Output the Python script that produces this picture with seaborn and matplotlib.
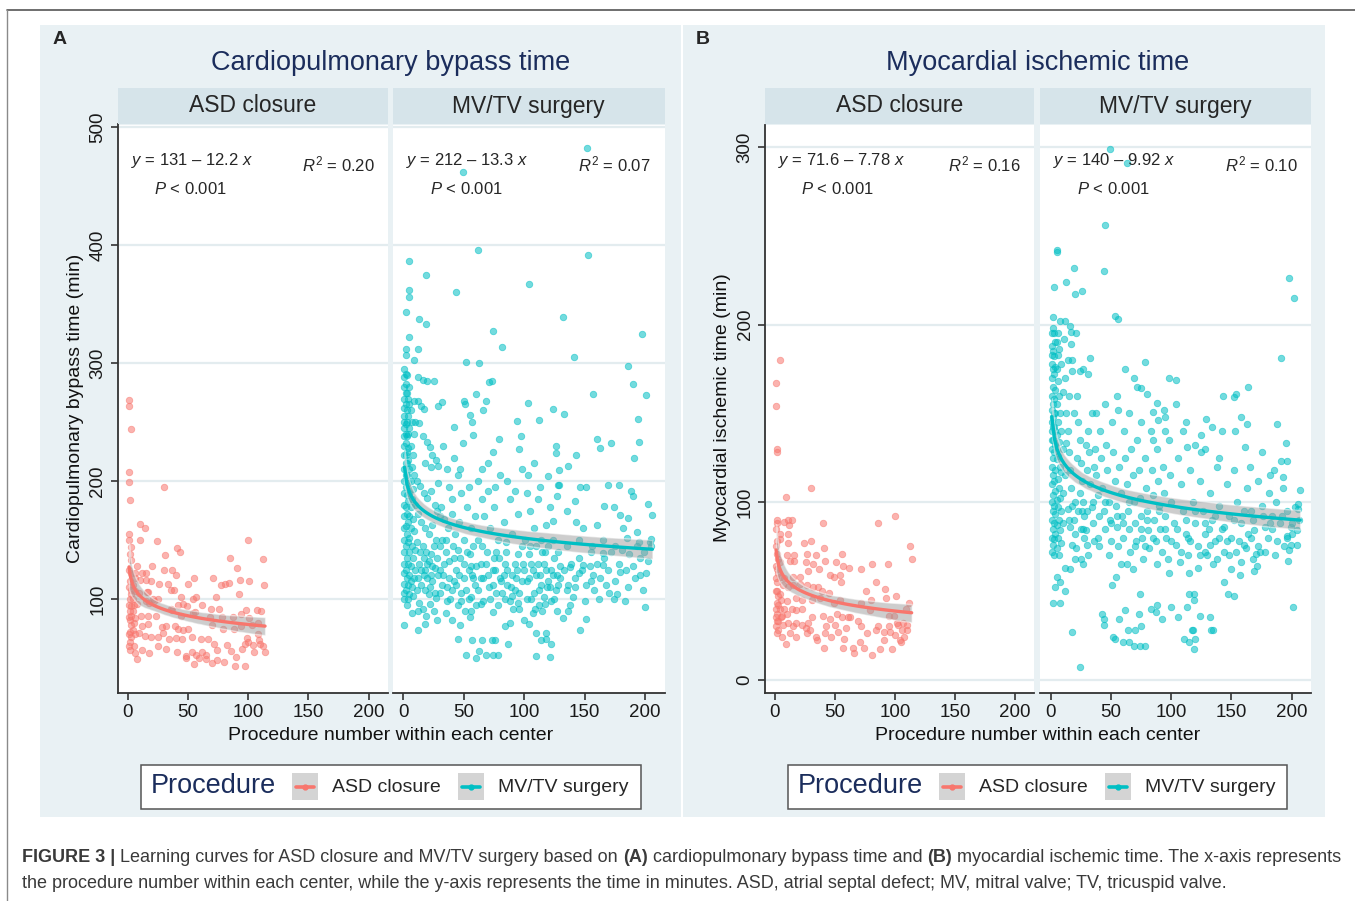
import numpy as np
import pandas as pd
import matplotlib
matplotlib.use("Agg")
import matplotlib.pyplot as plt
import seaborn as sns
from matplotlib.patches import Rectangle
from matplotlib.lines import Line2D
from matplotlib import font_manager

# ---------- data: (procedure number, minutes) ----------
asd_cpb = [(1, 269), (1, 264), (3, 244), (1, 208), (1, 199), (2, 184), (30, 195), (10, 164), (14, 160),
           (1, 155), (1, 150), (10, 150), (24, 149), (3, 144), (41, 143), (43, 140), (2, 138), (31, 137),
           (3, 133), (100, 150), (85, 135), (112, 134), (91, 126), (20, 128), (8, 128), (30, 125), (37, 125),
           (40, 120), (55, 118), (71, 118), (1, 125), (3, 122), (6, 122), (12, 122), (15, 122),
           (6, 118), (10, 116), (15, 116), (19, 115), (26, 113), (33, 113), (50, 113), (77, 112), (81, 113),
           (84, 114), (93, 116), (101, 115), (113, 112), (3, 108), (3, 104), (6, 107), (9, 105), (16, 106),
           (17, 106), (36, 108), (38, 108), (92, 104), (73, 102), (44, 102), (54, 100), (57, 102), (21, 100),
           (25, 100), (3, 94), (8, 96), (15, 98), (18, 97), (22, 98), (42, 95), (46, 96), (49, 94), (62, 95),
           (69, 92), (76, 92), (98, 91), (107, 91), (111, 90), (3, 86), (6, 84), (11, 86), (17, 86), (23, 86),
           (36, 92), (37, 91), (44, 86), (54, 88), (56, 89), (68, 85), (78, 85), (87, 85), (94, 87), (101, 84),
           (108, 80), (5, 80), (12, 77), (17, 79), (28, 76), (32, 77), (39, 77), (42, 75), (46, 74), (50, 75),
           (70, 78), (79, 75), (88, 75), (94, 77), (103, 78), (2, 72), (6, 70), (9, 71), (14, 69), (19, 68),
           (25, 68), (29, 71), (34, 66), (40, 67), (45, 66), (53, 68), (61, 66), (67, 66), (72, 62), (82, 61),
           (97, 62), (99, 67), (109, 65), (104, 61), (110, 62), (2, 57), (6, 54), (12, 57), (18, 54), (25, 60),
           (32, 58), (41, 55), (48, 52), (53, 55), (57, 53), (62, 55), (65, 53), (74, 57), (80, 47), (74, 48),
           (114, 55), (8, 49), (48, 50), (55, 45), (59, 50), (65, 49), (70, 46), (90, 51), (89, 43), (97, 43),
           (1, 95), (1, 85), (2, 100), (2, 90), (1, 110), (2, 115), (3, 78), (4, 90), (4, 112), (5, 95),
           (1, 70), (2, 64), (5, 60), (4, 74), (1, 60), (2, 82), (3, 68), (4, 100),
           (95, 58), (105, 55), (112, 60), (100, 64), (86, 56), (108, 70)]

mv_cpb = [(152, 482), (49, 462), (62, 396), (153, 392), (5, 387), (19, 375), (104, 367), (5, 362), (5, 356),
          (44, 360), (2, 343), (132, 339), (13, 337), (19, 333), (197, 325), (74, 327), (5, 322), (82, 314),
          (2, 312), (12, 312), (2, 307), (9, 303), (141, 305), (52, 301), (63, 300), (186, 298), (2, 291),
          (1, 288), (12, 288), (16, 286), (20, 285), (25, 285), (71, 284), (73, 285), (190, 282), (157, 274),
          (201, 273),
          (1, 78), (1, 100), (1, 105), (1, 113), (1, 122), (1, 130), (1, 140), (1, 150), (1, 160), (1, 170),
          (1, 180), (1, 190), (1, 200), (1, 210), (1, 222), (1, 238), (1, 250), (1, 262), (1, 270),
          (2, 275), (2, 248), (2, 232), (2, 215), (2, 195), (2, 178), (2, 162), (2, 145), (2, 125), (2, 108),
          (3, 95), (3, 118), (3, 135), (3, 155), (3, 172), (3, 188), (3, 205), (3, 225), (3, 260), (3, 275),
          (4, 240), (4, 218), (4, 198), (4, 183), (4, 165), (4, 148), (4, 130), (4, 112), (4, 100),
          (5, 265), (5, 210), (5, 190), (5, 170), (5, 152), (5, 140), (5, 120), (5, 104),
          (6, 230), (6, 200), (6, 178), (6, 160), (6, 128), (6, 115), (7, 88), (7, 250), (7, 212), (7, 185),
          (7, 145), (7, 110), (8, 222), (8, 193), (8, 168), (8, 135), (8, 103), (9, 268), (9, 240), (9, 205),
          (9, 158), (9, 118), (10, 250), (10, 180), (10, 142), (10, 125),
          (1, 295), (1, 280), (1, 255), (2, 265), (2, 282), (2, 240), (3, 250), (3, 290), (4, 270), (4, 255),
          (1, 230), (2, 222), (3, 238), (1, 245), (2, 205), (3, 215), (4, 228), (5, 280), (6, 260), (5, 245),
          (12, 74), (12, 90), (12, 268), (15, 264), (17, 261), (13, 249), (16, 238), (20, 233), (22, 229),
          (24, 222), (27, 218), (29, 213), (23, 212), (18, 215), (11, 200), (14, 196), (17, 190), (20, 186),
          (23, 192), (26, 180), (28, 175), (12, 172), (15, 165), (18, 160), (21, 155), (24, 163), (27, 150),
          (30, 145), (11, 148), (14, 140), (17, 135), (20, 130), (23, 138), (26, 126), (29, 120), (12, 118),
          (15, 112), (18, 108), (21, 104), (24, 115), (27, 101), (13, 97), (16, 92), (19, 86), (22, 96),
          (25, 90), (28, 82), (18, 79), (30, 105), (30, 170), (29, 198),
          (15, 125), (17, 120), (19, 140), (21, 132), (23, 120), (11, 108), (13, 130), (16, 145), (18, 125),
          (29, 264), (32, 267), (42, 246), (49, 232), (50, 268), (51, 265), (55, 256), (57, 250), (58, 239),
          (60, 274), (33, 230), (36, 210), (38, 195), (40, 185), (42, 220), (45, 205), (48, 190), (31, 178),
          (34, 168), (37, 160), (40, 172), (43, 155), (46, 165), (50, 150), (53, 178), (56, 160), (59, 170),
          (32, 150), (35, 140), (38, 132), (41, 145), (44, 125), (47, 135), (50, 118), (53, 140), (56, 128),
          (59, 112), (33, 120), (36, 110), (39, 100), (42, 115), (45, 95), (48, 105), (51, 90), (54, 100),
          (57, 120), (60, 95), (35, 88), (40, 82), (45, 66), (47, 78), (52, 53), (55, 85), (56, 90), (57, 65),
          (60, 50), (58, 145), (54, 195), (47, 210),
          (20, 118), (22, 110), (24, 128), (26, 105), (28, 135), (30, 125), (32, 112), (34, 130), (36, 98),
          (38, 118), (40, 108), (42, 135), (44, 112), (46, 120), (48, 98), (50, 130), (52, 108), (54, 125),
          (56, 102), (58, 118), (60, 128), (25, 145), (35, 150), (45, 142), (55, 138),
          (63, 56), (65, 65), (64, 96), (66, 260), (68, 268), (68, 53), (74, 225), (73, 65), (74, 53),
          (74, 89), (76, 65), (78, 53), (79, 236), (84, 77), (87, 62), (90, 103), (94, 251), (95, 97),
          (96, 227), (97, 238), (62, 200), (65, 185), (67, 170), (70, 192), (72, 160), (75, 178), (78, 150),
          (80, 205), (83, 165), (85, 140), (88, 185), (90, 155), (92, 130), (95, 172), (98, 145), (62, 150),
          (64, 130), (66, 118), (69, 140), (71, 110), (74, 125), (77, 105), (79, 135), (81, 115), (84, 100),
          (86, 125), (89, 110), (91, 92), (93, 118), (96, 105), (99, 130), (65, 210), (70, 215), (76, 195),
          (86, 200), (92, 192), (98, 210), (100, 82), (88, 80), (77, 140), (83, 120),
          (62, 108), (64, 118), (66, 98), (68, 130), (70, 120), (72, 100), (74, 112), (76, 125), (78, 95),
          (80, 118), (82, 105), (84, 130), (86, 112), (88, 98), (90, 120), (92, 108), (94, 125), (96, 92),
          (98, 115), (65, 145), (75, 135), (85, 148), (95, 138),
          (103, 266), (104, 79), (110, 71), (110, 52), (112, 252), (114, 65), (118, 71), (118, 66),
          (121, 178), (121, 51), (122, 62), (124, 261), (126, 230), (126, 224), (120, 204), (118, 163),
          (124, 166), (127, 187), (129, 197), (129, 209), (128, 197), (102, 190), (105, 175), (108, 160),
          (111, 185), (114, 150), (117, 140), (101, 150), (104, 138), (107, 125), (110, 145), (113, 120),
          (116, 130), (119, 110), (122, 125), (125, 100), (128, 140), (102, 115), (106, 100), (109, 92),
          (112, 108), (115, 90), (120, 145), (124, 150), (127, 120), (130, 128), (103, 205), (108, 215),
          (113, 195),
          (100, 125), (102, 100), (104, 118), (106, 130), (108, 105), (110, 120), (112, 95), (114, 112),
          (116, 102), (118, 125), (120, 115), (122, 98), (124, 120), (126, 108), (128, 112), (130, 118),
          (105, 145), (115, 140), (125, 135), (107, 88), (117, 96), (127, 90), (111, 130), (121, 110),
          (132, 84), (133, 257), (135, 175), (135, 108), (136, 213), (136, 90), (138, 127), (142, 183),
          (142, 110), (143, 222), (143, 165), (145, 122), (146, 195), (146, 74), (149, 160), (149, 129),
          (151, 195), (151, 83), (155, 115), (156, 145), (160, 236), (160, 163), (163, 228), (165, 139),
          (165, 129), (166, 179), (169, 197), (170, 105), (172, 232), (174, 178), (174, 100), (178, 197),
          (179, 171), (179, 123), (182, 160), (186, 169), (188, 192), (190, 187), (191, 220), (193, 157),
          (194, 253), (195, 233), (196, 120), (200, 93), (202, 181), (205, 151), (206, 171), (204, 148),
          (133, 125), (136, 112), (139, 130), (142, 118), (145, 135), (148, 125), (151, 112), (154, 128),
          (157, 120), (160, 130), (163, 118), (166, 135), (169, 125), (172, 140), (175, 115), (178, 130),
          (181, 142), (184, 125), (187, 138), (190, 128), (193, 145), (196, 135), (199, 140), (202, 132),
          (205, 145), (135, 145), (145, 150), (155, 140), (165, 150), (175, 145), (185, 152), (195, 148),
          (140, 102), (150, 98), (158, 108), (168, 112), (177, 104), (186, 110), (192, 118), (201, 122),
          (138, 95), (162, 100), (183, 98), (198, 108)]

asd_mit = [(4, 180), (1, 167), (1, 154), (2, 130), (2, 128), (30, 108), (9, 103), (2, 90), (2, 88), (1, 85),
           (8, 89), (11, 90), (14, 90), (12, 87), (40, 88), (86, 88), (100, 92), (4, 82), (11, 82), (2, 78),
           (4, 79), (1, 75), (11, 77), (24, 77), (30, 78), (41, 74), (113, 75), (114, 68), (27, 71), (34, 70),
           (56, 71), (42, 67), (51, 66), (10, 70), (16, 70), (16, 67), (13, 67), (2, 71), (3, 68), (1, 64),
           (26, 66), (32, 65), (81, 65), (94, 65), (57, 64), (62, 63), (72, 62), (28, 61), (37, 62), (46, 59),
           (49, 58), (54, 59), (55, 55), (4, 58), (8, 57), (15, 58), (21, 58), (21, 54), (27, 53), (32, 52),
           (36, 52), (39, 50), (84, 55), (92, 51), (101, 47), (93, 46), (76, 50), (80, 45), (2, 50), (3, 47),
           (7, 53), (11, 52), (15, 53), (10, 44), (18, 46), (23, 45), (31, 45), (38, 46), (45, 49), (49, 43),
           (54, 45), (72, 43), (79, 39), (112, 43), (109, 40), (2, 43), (8, 40), (14, 40), (18, 39), (23, 40),
           (31, 35), (40, 36), (46, 34), (52, 37), (56, 35), (61, 35), (63, 35), (69, 33), (95, 36), (99, 36),
           (102, 32), (107, 32), (110, 31), (106, 28), (103, 31), (2, 37), (6, 36), (10, 37), (3, 33), (7, 31),
           (11, 32), (15, 30), (18, 32), (23, 31), (26, 29), (28, 32), (29, 28), (43, 30), (50, 31), (53, 27),
           (59, 29), (72, 30), (77, 26), (84, 28), (86, 30), (91, 27), (96, 27), (2, 26), (6, 24), (9, 20),
           (13, 26), (18, 24), (27, 26), (34, 24), (35, 22), (42, 26), (41, 18), (47, 24), (57, 18), (58, 23),
           (65, 18), (66, 15), (71, 21), (74, 18), (81, 14), (88, 17), (91, 22), (98, 17), (104, 22), (105, 21),
           (1, 40), (1, 50), (2, 55), (3, 42), (1, 30), (2, 33), (4, 40), (3, 60), (5, 45), (1, 57), (2, 62),
           (4, 66), (5, 35), (3, 28), (1, 35), (4, 48),
           (100, 25), (110, 28), (95, 30), (108, 24)]

mv_mit = [(49, 299), (63, 291), (45, 256), (5, 242), (5, 241), (19, 232), (44, 230), (3, 221), (13, 224),
          (20, 217), (26, 219), (198, 226), (202, 215), (53, 205), (56, 203), (2, 204), (2, 198), (8, 202),
          (12, 202), (16, 199), (17, 196), (21, 195), (17, 189), (33, 181), (78, 179), (191, 181), (62, 175),
          (1, 183), (1, 178), (6, 183), (14, 180), (18, 180), (18, 174), (24, 174), (27, 175), (31, 172),
          (69, 170), (72, 165), (75, 164), (80, 161), (98, 170), (104, 169), (164, 165), (143, 160),
          (152, 159), (154, 161), (88, 156), (94, 152), (104, 155), (56, 152), (38, 150), (85, 151), (89, 146),
          (95, 148), (112, 145), (129, 147), (158, 148), (163, 144), (188, 144), (195, 133), (161, 131),
          (175, 128), (142, 140), (153, 140), (125, 138), (134, 142), (113, 131), (120, 132), (128, 130),
          (191, 123), (196, 123), (182, 115), (193, 114), (207, 107), (205, 99), (205, 96), (200, 82),
          (199, 76), (198, 73), (196, 81), (201, 41), (170, 71), (174, 72), (169, 61), (157, 59), (147, 48),
          (152, 47), (144, 55), (115, 48), (119, 48), (119, 45), (113, 41), (124, 36), (132, 35), (133, 28),
          (135, 28), (111, 23), (115, 21), (117, 28), (118, 28), (120, 23), (119, 17), (100, 41), (106, 35),
          (87, 38), (92, 34), (88, 42), (83, 40), (74, 48), (75, 30), (60, 21), (65, 21), (69, 19), (74, 19),
          (78, 19), (52, 24), (53, 23), (62, 39), (64, 28), (57, 34), (70, 28), (73, 37), (43, 37), (44, 34),
          (44, 31), (51, 53), (54, 58), (63, 65), (18, 27), (24, 7), (2, 43), (8, 43), (4, 52), (8, 55),
          (12, 50), (5, 58), (12, 63), (16, 62), (27, 65),
          (1, 170), (1, 160), (1, 152), (1, 140), (1, 130), (1, 120), (1, 110), (1, 100), (1, 90), (1, 80),
          (1, 72), (2, 165), (2, 148), (2, 135), (2, 125), (2, 115), (2, 104), (2, 95), (2, 85), (2, 76),
          (3, 172), (3, 158), (3, 142), (3, 128), (3, 112), (3, 98), (3, 88), (3, 79), (3, 70), (4, 190),
          (4, 163), (4, 150), (4, 132), (4, 118), (4, 106), (4, 93), (4, 82), (5, 175), (5, 155), (5, 138),
          (5, 124), (5, 101), (5, 87), (5, 74), (6, 168), (6, 145), (6, 126), (6, 113), (6, 97), (6, 80),
          (7, 186), (7, 160), (7, 134), (7, 108), (7, 90), (7, 70), (8, 150), (8, 120), (8, 102), (8, 84),
          (9, 178), (9, 140), (9, 117), (9, 95), (9, 77), (10, 162), (10, 130), (10, 105), (10, 88),
          (1, 195), (1, 188), (2, 185), (2, 175), (3, 195), (3, 182), (4, 176), (1, 145), (2, 155), (3, 150),
          (4, 140), (5, 190), (6, 195), (1, 135), (2, 142),
          (11, 192), (12, 170), (13, 150), (14, 140), (15, 128), (16, 118), (17, 108), (18, 98), (19, 90),
          (20, 82), (21, 74), (22, 160), (23, 145), (24, 135), (25, 122), (26, 112), (27, 100), (28, 92),
          (29, 84), (30, 76), (12, 115), (14, 96), (16, 86), (18, 76), (20, 68), (22, 125), (24, 105),
          (26, 95), (28, 80), (30, 118), (31, 140), (32, 128), (33, 110), (34, 97), (35, 88), (36, 78),
          (37, 130), (38, 115), (39, 104), (40, 92), (13, 133), (15, 160), (19, 150), (23, 95), (27, 85),
          (29, 132), (34, 150), (36, 120), (39, 80), (31, 70), (25, 68),
          (15, 90), (20, 100), (25, 85), (30, 95), (35, 100), (40, 75),
          (41, 140), (42, 125), (43, 108), (44, 95), (45, 85), (46, 132), (47, 118), (48, 100), (49, 90),
          (50, 78), (51, 145), (52, 128), (53, 112), (54, 98), (55, 86), (56, 75), (57, 120), (58, 105),
          (59, 92), (60, 80), (61, 140), (62, 125), (63, 110), (64, 95), (65, 85), (66, 72), (67, 130),
          (68, 115), (69, 100), (70, 88), (71, 78), (72, 135), (73, 118), (74, 102), (75, 92), (76, 80),
          (77, 68), (78, 125), (79, 108), (80, 95), (81, 84), (82, 74), (83, 140), (84, 118), (85, 104),
          (86, 90), (87, 78), (88, 130), (89, 112), (90, 98), (91, 85), (92, 72), (93, 120), (94, 105),
          (95, 92), (96, 80), (97, 68), (98, 135), (99, 115), (100, 100), (45, 155), (55, 160), (65, 150),
          (75, 145), (85, 135), (95, 140), (48, 70), (58, 65), (68, 62), (78, 75), (88, 65), (98, 60),
          (45, 100), (50, 88), (55, 92), (60, 88), (65, 100), (70, 75), (75, 85), (80, 90), (85, 80),
          (90, 95), (95, 85), (100, 78),
          (102, 88), (104, 76), (106, 125), (108, 110), (110, 95), (112, 82), (114, 70), (116, 118),
          (118, 100), (120, 88), (122, 75), (124, 112), (126, 95), (128, 82), (130, 70), (132, 105),
          (134, 90), (136, 78), (138, 120), (140, 98), (142, 85), (144, 72), (146, 110), (148, 92), (150, 80),
          (152, 118), (155, 100), (158, 88), (160, 76), (163, 108), (166, 95), (169, 84), (172, 112),
          (175, 98), (178, 86), (181, 105), (184, 92), (187, 100), (190, 88), (193, 108), (196, 95),
          (199, 86), (203, 97), (206, 90), (110, 140), (125, 128), (140, 125), (165, 120), (185, 118),
          (115, 60), (135, 65), (150, 62), (168, 68),
          (105, 85), (108, 72), (112, 90), (116, 78), (120, 95), (124, 70), (128, 88), (132, 76), (136, 92),
          (140, 80), (144, 86), (148, 70), (152, 90), (156, 78), (160, 95), (164, 82), (168, 90), (172, 75),
          (176, 92), (180, 80), (184, 85), (188, 78), (192, 92), (196, 80), (200, 88), (204, 84),
          (107, 66), (122, 63), (138, 68), (154, 72), (171, 64), (186, 70), (197, 67), (146, 78), (162, 74),
          (178, 72), (128, 72), (114, 80), (182, 88), (194, 75), (158, 66), (131, 85), (204, 76), (166, 80)]

panel_letters = ["A", "B"]
panel_titles = ["Cardiopulmonary bypass time", "Myocardial ischemic time"]
y_labels = ["Cardiopulmonary bypass time (min)", "Myocardial ischemic time (min)"]
procedures = ["ASD closure", "MV/TV surgery"]
equations = [["131 – 12.2", "212 – 13.3"], ["71.6 – 7.78", "140 – 9.92"]]
r_squared = [["0.20", "0.07"], ["0.16", "0.10"]]
p_values = ["0.001", "0.001"]
y_ticks = [[100, 200, 300, 400, 500], [0, 100, 200, 300]]
y_limits = [(20.8, 502.3), (-7.3, 312.7)]
x_ticks = [0, 50, 100, 150, 200]
point_sets = [[asd_cpb, mv_cpb], [asd_mit, mv_mit]]

# ---------- style ----------
sns.set_style("ticks")
plt.rcParams["font.family"] = ["Liberation Sans", "DejaVu Sans"]
plt.rcParams["mathtext.fontset"] = "custom"
plt.rcParams["mathtext.rm"] = "Liberation Sans"
plt.rcParams["mathtext.it"] = "Liberation Sans:italic"
plt.rcParams["mathtext.bf"] = "Liberation Sans:bold"

available = {f.name for f in font_manager.fontManager.ttflist}
cap_font = "Liberation Sans Narrow" if "Liberation Sans Narrow" in available else "Liberation Sans"

colors = ["#F8766D", "#00BFC4"]
bg_col = "#e9f1f4"
strip_col = "#d6e4ea"
grid_col = "#e3ecef"
navy = "#1b2d5c"
axis_col = "#333333"

W, H = 1355, 901
fig = plt.figure(figsize=(W / 100, H / 100), dpi=100)


def box(x0, y0, x1, y1):
    return [x0 / W, 1 - y1 / H, (x1 - x0) / W, (y1 - y0) / H]


# frame lines of the page
fig.add_artist(Line2D([7 / W, 1], [1 - 9.5 / H] * 2, color="#555555", lw=1.2))
fig.add_artist(Line2D([7.5 / W] * 2, [0, 1 - 9.5 / H], color="#8a8a8a", lw=1.0))

panel_x = [40, 683]
panel_w = [641, 642]
facet_x = [[(117.6, 387.8), (393.0, 664.5)], [(764.7, 1034.0), (1040.4, 1311.0)]]
y_top, y_bot = 124.5, 692.5

for p in range(2):
    fig.add_artist(Rectangle((panel_x[p] / W, 1 - 817 / H), panel_w[p] / W, (817 - 25) / H,
                             transform=fig.transFigure, facecolor=bg_col, edgecolor="none", zorder=-5))
    cx = (facet_x[p][0][0] + facet_x[p][1][1]) / 2
    fig.text((panel_x[p] + 13) / W, 1 - 40 / H, panel_letters[p], fontsize=14, fontweight="bold",
             ha="left", va="center")
    fig.text(cx / W, 1 - 63 / H, panel_titles[p], fontsize=19.5, color=navy, ha="center", va="center")
    fig.text(cx / W, 1 - 736 / H, "Procedure number within each center", fontsize=14,
             ha="center", va="center", color="#111111")
    fig.text((facet_x[p][0][0] - 42) / W, 1 - 408 / H, y_labels[p], fontsize=14, rotation=90,
             ha="center", va="center", color="#111111")

    for f in range(2):
        x0, x1 = facet_x[p][f]
        col = colors[f]
        df = pd.DataFrame(point_sets[p][f], columns=["n", "minutes"])

        ax = fig.add_axes(box(x0, y_top, x1, y_bot))
        ax.set_facecolor("white")
        sns.scatterplot(data=df, x="n", y="minutes", ax=ax, color=col, alpha=0.55, s=22,
                        edgecolor=col, linewidth=0.6, zorder=3)
        sns.regplot(data=df, x="n", y="minutes", ax=ax, logx=True, scatter=False, color=col,
                    n_boot=400, seed=3, line_kws={"lw": 2.4, "zorder": 6})
        band = ax.collections[-1]
        band.set_facecolor("#9c9c9c")
        band.set_alpha(0.5)
        band.set_zorder(5)

        ax.set_xlim(-8.5, 216)
        ax.set_ylim(*y_limits[p])
        ax.set_xticks(x_ticks)
        ax.set_yticks(y_ticks[p])
        ax.set_xlabel("")
        ax.set_ylabel("")
        ax.grid(axis="y", color=grid_col, lw=1.6)
        ax.grid(axis="x", visible=False)
        ax.set_axisbelow(True)
        for side in ["top", "right"]:
            ax.spines[side].set_visible(False)
        ax.spines["bottom"].set_color(axis_col)
        ax.spines["bottom"].set_linewidth(1.3)
        ax.spines["left"].set_color(axis_col)
        ax.spines["left"].set_linewidth(1.3)
        ax.tick_params(axis="both", direction="out", length=5, width=1.2, color=axis_col,
                       labelsize=13.5, labelcolor="#1a1a1a", pad=3)
        if f == 0:
            for lbl in ax.get_yticklabels():
                lbl.set_rotation(90)
                lbl.set_va("center")
        else:
            ax.spines["left"].set_visible(False)
            ax.tick_params(axis="y", left=False, labelleft=False)

        ax.text(0.048, 0.937, "$y$ = " + equations[p][f] + " $x$", transform=ax.transAxes,
                fontsize=12, ha="left", va="center", zorder=7)
        ax.text(0.135, 0.886, "$P$ < " + p_values[p], transform=ax.transAxes,
                fontsize=12, ha="left", va="center", zorder=7)
        ax.text(0.95, 0.930, "$R^2$ = " + r_squared[p][f], transform=ax.transAxes,
                fontsize=12, ha="right", va="center", zorder=7)

        sax = fig.add_axes(box(x0, 88, x1, 124))
        sax.set_facecolor(strip_col)
        sax.set_xticks([])
        sax.set_yticks([])
        for s in sax.spines.values():
            s.set_visible(False)
        sax.text(0.5, 0.5, procedures[f], transform=sax.transAxes, fontsize=16.5,
                 ha="center", va="center")

    # legend box drawn under each panel
    off = 0 if p == 0 else 646.7
    fig.add_artist(Rectangle(((141 + off) / W, 1 - 809 / H), 499.6 / W, 44 / H,
                             transform=fig.transFigure, facecolor="white", edgecolor="#555555", lw=1.1))
    fig.text((151 + off) / W, 1 - 786 / H, "Procedure", fontsize=19.5, color=navy, ha="left", va="center")
    for kx, lab, col in [(292, procedures[0], colors[0]), (458, procedures[1], colors[1])]:
        fig.add_artist(Rectangle(((kx + off) / W, 1 - 800 / H), 26 / W, 27 / H,
                                 transform=fig.transFigure, facecolor="#d4d4d4", edgecolor="none"))
        fig.add_artist(Line2D([(kx + 4 + off) / W, (kx + 22 + off) / W], [1 - 787 / H] * 2,
                              color=col, lw=2.6))
        fig.add_artist(Line2D([(kx + 13 + off) / W], [1 - 787 / H], color=col, marker="o",
                              markersize=3.5, lw=0))
        fig.text((kx + 40 + off) / W, 1 - 787 / H, lab, fontsize=14, ha="left", va="center")

# ---------- caption with bold parts ----------
renderer = fig.canvas.get_renderer()


def width_of(s, size, weight):
    t = fig.text(0, 0, s, fontsize=size, fontweight=weight, family=cap_font)
    w = t.get_window_extent(renderer).width
    t.remove()
    return w


def line_width(parts, size):
    sp = width_of("a a", size, "normal") - width_of("aa", size, "normal")
    total = sum(width_of(s, size, "bold" if b else "normal") for s, b in parts)
    return total + sp * (len(parts) - 1), sp


def caption_line(parts, y, size):
    _, sp = line_width(parts, size)
    x = 22
    for s, b in parts:
        wt = "bold" if b else "normal"
        fig.text(x / W, 1 - y / H, s, fontsize=size, fontweight=wt, family=cap_font,
                 color="#3a3a3a", ha="left", va="center")
        x += width_of(s, size, wt) + sp


line1 = [("FIGURE 3 |", True), ("Learning curves for ASD closure and MV/TV surgery based on", False),
         ("(A)", True), ("cardiopulmonary bypass time and", False), ("(B)", True),
         ("myocardial ischemic time. The x-axis represents", False)]
line2 = [("the procedure number within each center, while the y-axis represents the time in minutes. "
          "ASD, atrial septal defect; MV, mitral valve; TV, tricuspid valve.", False)]

w12, _ = line_width(line1, 12)
cap_size = 12 * (1340 - 22) / w12
caption_line(line1, 858, cap_size)
caption_line(line2, 883, cap_size)

fig.savefig("out.png", dpi=100)
